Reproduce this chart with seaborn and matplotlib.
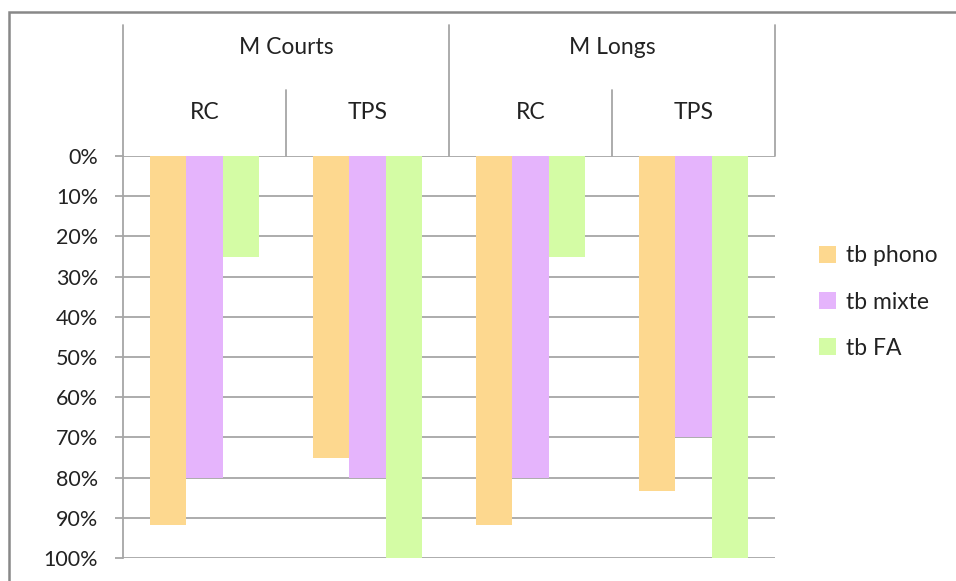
import pandas as pd
import seaborn as sns
import matplotlib.pyplot as plt
from matplotlib.patches import Rectangle
from matplotlib.ticker import PercentFormatter

# chart data
groups = ["M Courts", "M Courts", "M Longs", "M Longs"]
methods = ["RC", "TPS", "RC", "TPS"]
series = ["tb phono", "tb mixte", "tb FA"]
tb_phono = [0.917, 0.75, 0.917, 0.833]
tb_mixte = [0.80, 0.80, 0.80, 0.70]
tb_fa = [0.25, 1.00, 0.25, 1.00]
colors = ["#FDD88F", "#E5B4FC", "#D4FCA5"]

rows = []
for i in range(len(methods)):
    cat = groups[i] + " " + methods[i]
    for name, vals in zip(series, [tb_phono, tb_mixte, tb_fa]):
        rows.append({"cat": cat, "serie": name, "value": vals[i]})
df = pd.DataFrame(rows)

sns.set_style("white")
plt.rcParams["font.family"] = ["Lato", "DejaVu Sans"]
grey = "#A6A6A6"
txt = "#222222"

fig = plt.figure(figsize=(9.56, 5.81), dpi=100)
ax = fig.add_axes([123 / 956, 23 / 581, 652 / 956, 402 / 581])

sns.barplot(data=df, x="cat", y="value", hue="serie", hue_order=series,
            palette=colors, saturation=1, width=0.663, linewidth=0,
            errorbar=None, ax=ax)

ax.set_ylim(1, 0)
ax.set_xlim(-0.5, 3.5)
ax.set_yticks([i / 10 for i in range(11)])
ax.yaxis.set_major_formatter(PercentFormatter(1, decimals=0))
ax.yaxis.grid(True, color=grey, lw=1.3)
ax.set_axisbelow(True)
ax.set_xticks([])
ax.set_xlabel("")
ax.set_ylabel("")
ax.tick_params(axis="y", left=True, length=6, width=1.3, color=grey,
               pad=12, labelsize=15.5, labelcolor=txt)
for s in ["top", "right", "bottom"]:
    ax.spines[s].set_visible(False)
ax.spines["left"].set_color(grey)
ax.spines["left"].set_linewidth(1.3)

# header with two levels of category labels
tr = ax.get_xaxis_transform()
for x in [-0.5, 1.5, 3.5]:
    ax.plot([x, x], [1.0, 1.326], transform=tr, color=grey, lw=1.3, clip_on=False)
for x in [0.5, 2.5]:
    ax.plot([x, x], [1.0, 1.164], transform=tr, color=grey, lw=1.3, clip_on=False)
ax.text(0.5, 1.271, "M Courts", transform=tr, ha="center", va="center", fontsize=16.5, color=txt)
ax.text(2.5, 1.271, "M Longs", transform=tr, ha="center", va="center", fontsize=16.5, color=txt)
for i, m in enumerate(methods):
    ax.text(i, 1.107, m, transform=tr, ha="center", va="center", fontsize=16.5, color=txt)

handles, labels = ax.get_legend_handles_labels()
leg = ax.legend(handles, labels, loc="center left", bbox_to_anchor=(0.835, 0.48),
                bbox_transform=fig.transFigure, frameon=False, fontsize=16.5,
                handlelength=0.75, handleheight=0.75, handletextpad=0.45,
                labelspacing=1.1)
for t in leg.get_texts():
    t.set_color(txt)

# outer chart frame
fig.patches.append(Rectangle((9 / 956, -0.1), 1.2, 1.1 - 12 / 581,
                             transform=fig.transFigure, fill=False,
                             edgecolor="#888888", lw=1.8))

fig.savefig("out.png", dpi=100)
